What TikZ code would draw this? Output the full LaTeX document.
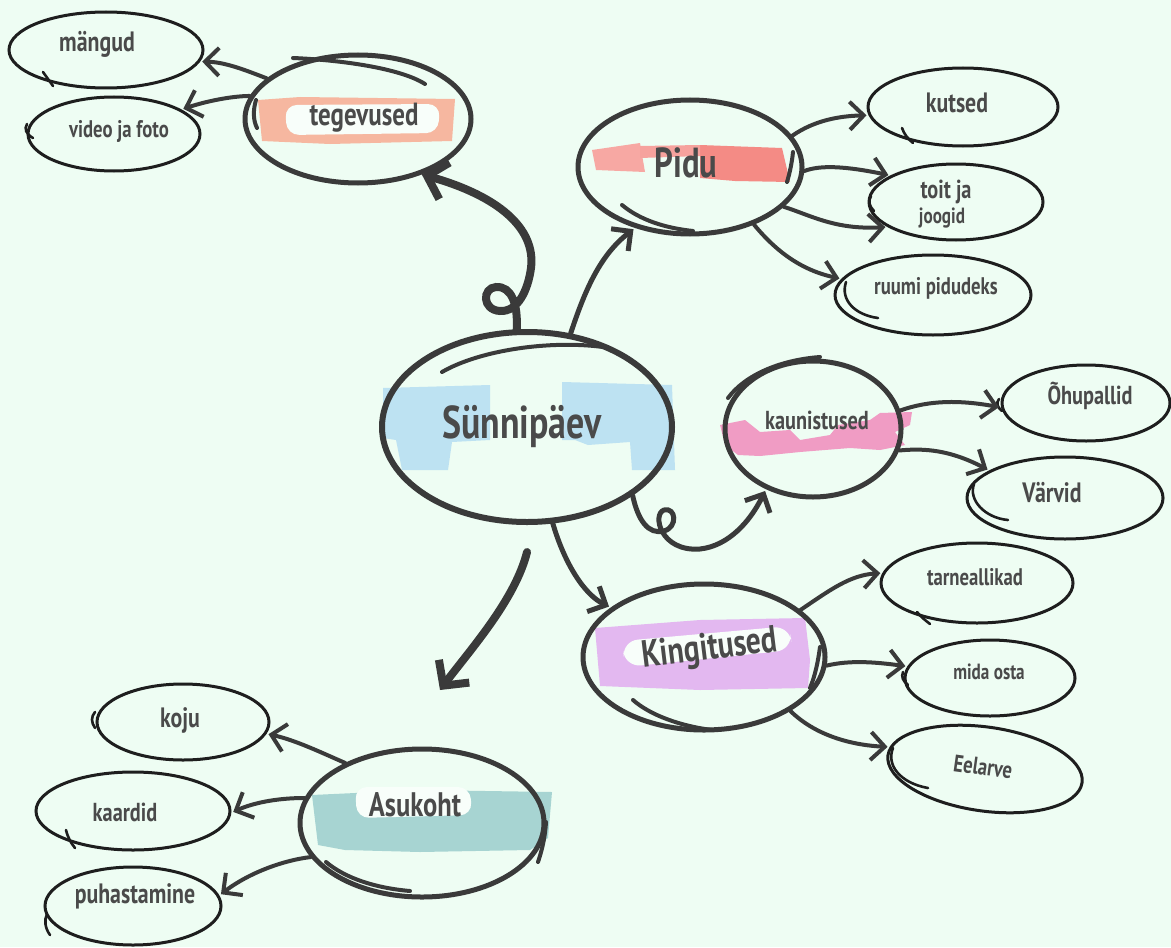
\documentclass[tikz,border=0pt]{standalone}
\usepackage{fontspec}
\setmainfont{PT Sans}
\usetikzlibrary{shapes.geometric,arrows.meta}
\definecolor{bg}{HTML}{EEFDF3}
\definecolor{ink}{HTML}{3A3A3A}
\definecolor{leafink}{HTML}{1E1E1E}
\definecolor{txt}{HTML}{4A4A4A}
\definecolor{orangebrush}{HTML}{F6B7A0}
\definecolor{salmonbrush}{HTML}{F48B85}
\definecolor{bluebrush}{HTML}{BDE2F2}
\definecolor{pinkbrush}{HTML}{F09CC4}
\definecolor{lilacbrush}{HTML}{E3B8F0}
\definecolor{tealbrush}{HTML}{A7D4D2}
\newcommand\narrowtxt[1]{\scalebox{0.78}[1]{#1}}
\begin{document}
\begin{tikzpicture}[x=0.5pt,y=-0.5pt,
  mainnode/.style={ellipse, draw=ink, line width=2.5pt, inner sep=0pt},
  centernode/.style={ellipse, draw=ink, line width=3pt, inner sep=0pt},
  leaf/.style={ellipse, draw=leafink, line width=1.5pt, inner sep=0pt},
  lbl/.style={text=txt, inner sep=0pt, font=\bfseries},
  conn/.style={draw=ink, line width=2pt, line cap=round,
     -{Straight Barb[length=7pt,width=14pt]}, shorten >=1pt},
  bigconn/.style={draw=ink, line width=4pt, line cap=round,
     -{Straight Barb[length=9pt,width=19pt]}},
  sketch/.style={draw=ink, line width=2pt, line cap=round},
  leafsketch/.style={draw=leafink, line width=1.3pt, line cap=round}
]
\fill[bg] (0,0) rectangle (1171,947);
\useasboundingbox (0,0) rectangle (1171,947);

% ---------- brushes ----------
\fill[orangebrush] (258,100) -- (300,97) -- (455,99) -- (452,141) -- (330,144) -- (262,141) -- cycle;
\fill[white!60!bg, rounded corners=6pt] (285,105) -- (440,104) -- (438,133) -- (287,135) -- cycle;

\fill[salmonbrush!75!white] (592,150) -- (640,143) -- (645,172) -- (596,170) -- cycle;
\fill[salmonbrush] (700,145) -- (782,148) -- (790,182) -- (735,181) -- (700,178) -- cycle;
\fill[salmonbrush!80!white] (640,146) -- (700,145) -- (700,156) -- (640,158) -- cycle;

\fill[bluebrush] (383,388) -- (490,385) -- (490,440) -- (452,442) -- (448,470) -- (402,470) -- (396,440) -- (383,438) -- cycle;
\fill[bluebrush] (562,382) -- (672,385) -- (675,470) -- (632,470) -- (630,442) -- (588,445) -- (575,440) -- (562,440) -- cycle;

\fill[pinkbrush] (720,425) -- (745,420) -- (760,432) -- (790,430) -- (800,440) -- (830,435) -- (838,425) -- (870,420) -- (880,413) -- (912,412) -- (910,425) -- (895,432) -- (905,445) -- (880,450) -- (850,448) -- (800,452) -- (760,456) -- (738,455) -- (725,445) -- cycle;

\fill[lilacbrush] (595,628) -- (700,620) -- (805,618) -- (810,660) -- (808,688) -- (700,690) -- (600,686) -- cycle;
\fill[white!60!bg, rounded corners=8pt] (622,641) -- (790,626) -- (792,650) -- (625,667) -- cycle;

\fill[tealbrush] (312,795) -- (420,790) -- (552,792) -- (548,838) -- (530,850) -- (420,852) -- (345,850) -- (318,845) -- cycle;
\fill[white!60!bg, rounded corners=6pt] (355,787) -- (470,787) -- (472,815) -- (357,818) -- cycle;

% ---------- nodes ----------
\node[centernode, minimum width=145pt, minimum height=95pt] (sun) at (527,427) {};
\node[mainnode, minimum width=113pt, minimum height=64pt] (tegev) at (358,119) {};
\node[mainnode, minimum width=112pt, minimum height=67pt] (pidu) at (690,167) {};
\node[mainnode, minimum width=88pt, minimum height=68pt] (kaun) at (813,429) {};
\node[mainnode, minimum width=121pt, minimum height=73pt] (king) at (704,657) {};
\node[mainnode, minimum width=122pt, minimum height=74pt] (asuk) at (422,823) {};

\node[leaf, minimum width=97pt, minimum height=38pt] (mang) at (106,50) {};
\node[leaf, minimum width=86pt, minimum height=37pt] (video) at (114,134) {};
\node[leaf, minimum width=95pt, minimum height=39pt] (kutsed) at (963,107) {};
\node[leaf, minimum width=87pt, minimum height=38pt] (toit) at (956,202) {};
\node[leaf, minimum width=98pt, minimum height=40pt] (ruumi) at (933,295) {};
\node[leaf, minimum width=84pt, minimum height=38pt] (ohu) at (1086,403) {};
\node[leaf, minimum width=98pt, minimum height=41pt] (varvid) at (1065,498) {};
\node[leaf, minimum width=96pt, minimum height=40pt] (tarne) at (977,583) {};
\node[leaf, minimum width=85pt, minimum height=38pt] (mida) at (990,678) {};
\node[leaf, minimum width=98pt, minimum height=42pt, rotate=-8] (eelarve) at (985,769) {};
\node[leaf, minimum width=86pt, minimum height=38pt] (koju) at (183,722) {};
\node[leaf, minimum width=97pt, minimum height=39pt] (kaardid) at (133,811) {};
\node[leaf, minimum width=88pt, minimum height=39pt] (puhast) at (133,906) {};

% ---------- sketch strokes ----------
\draw[sketch] (293,58) .. controls (340,60) and (400,68) .. (425,84);
\draw[sketch] (256,100) .. controls (253,110) and (253,120) .. (257,128);
\draw[sketch] (622,205) .. controls (640,220) and (665,228) .. (693,231);
\draw[sketch] (793,152) .. controls (792,162) and (790,172) .. (787,182);
\draw[sketch] (442,372) .. controls (480,350) and (550,340) .. (603,347);
\draw[sketch] (728,398) .. controls (745,375) and (780,360) .. (820,357);
\draw[sketch] (633,700) .. controls (650,715) and (680,726) .. (712,730);
\draw[sketch] (820,647) .. controls (818,662) and (815,676) .. (810,688);
\draw[sketch] (326,862) .. controls (345,878) and (375,888) .. (410,891);
\draw[sketch] (546,822) .. controls (545,838) and (542,850) .. (538,862);

\draw[leafsketch] (43,72) -- (53,86);
\draw[leafsketch] (27,124) .. controls (24,129) and (26,134) .. (33,138);
\draw[leafsketch] (902,128) .. controls (904,134) and (908,139) .. (913,143);
\draw[leafsketch] (871,196) .. controls (868,201) and (869,206) .. (874,211);
\draw[leafsketch] (846,282) .. controls (840,300) and (855,315) .. (878,318);
\draw[leafsketch] (999,399) .. controls (996,403) and (997,407) .. (1002,411);
\draw[leafsketch] (974,484) .. controls (968,500) and (985,518) .. (1008,520);
\draw[leafsketch] (917,612) .. controls (921,617) and (925,620) .. (930,624);
\draw[leafsketch] (903,672) .. controls (901,677) and (903,681) .. (908,685);
\draw[leafsketch] (893,748) .. controls (886,765) and (900,783) .. (928,788);
\draw[leafsketch] (95,712) .. controls (91,717) and (91,722) .. (95,728);
\draw[leafsketch] (66,830) .. controls (68,838) and (71,843) .. (75,848);
\draw[leafsketch] (47,914) .. controls (44,920) and (45,928) .. (50,935);

% ---------- labels ----------
\node[lbl, font=\bfseries\fontsize{23}{23}\selectfont] (tsun) at (522,427) {\narrowtxt{Sünnipäev}};
\node[lbl, font=\bfseries\fontsize{16}{16}\selectfont] (ttegev) at (364,118) {\narrowtxt{tegevused}};
\node[lbl, font=\bfseries\fontsize{21}{21}\selectfont] (tpidu) at (686,163) {\narrowtxt{Pidu}};
\node[lbl, font=\bfseries\fontsize{13}{13}\selectfont] (tkaun) at (817,420) {\narrowtxt{kaunistused}};
\node[lbl, font=\bfseries\fontsize{19}{19}\selectfont, rotate=7] (tking) at (710,650) {\narrowtxt{Kingitused}};
\node[lbl, font=\bfseries\fontsize{17}{17}\selectfont] (tasuk) at (415,805) {\narrowtxt{Asukoht}};

\node[lbl, font=\bfseries\fontsize{14}{14}\selectfont] (tmang) at (97,44) {\narrowtxt{mängud}};
\node[lbl, font=\bfseries\fontsize{12}{12}\selectfont] (tvideo) at (119,131) {\narrowtxt{video ja foto}};
\node[lbl, font=\bfseries\fontsize{14}{14}\selectfont] (tkutsed) at (957,103) {\narrowtxt{kutsed}};
\node[lbl, font=\bfseries\fontsize{13}{13}\selectfont] (ttoit1) at (946,192) {\narrowtxt{toit ja}};
\node[lbl, font=\bfseries\fontsize{11}{11}\selectfont] (ttoit2) at (942,218) {\narrowtxt{joogid}};
\node[lbl, font=\bfseries\fontsize{12}{12}\selectfont] (truumi) at (936,288) {\narrowtxt{ruumi pidudeks}};
\node[lbl, font=\bfseries\fontsize{13}{13}\selectfont] (tohu) at (1090,396) {\narrowtxt{Õhupallid}};
\node[lbl, font=\bfseries\fontsize{14}{14}\selectfont] (tvarvid) at (1052,493) {\narrowtxt{Värvid}};
\node[lbl, font=\bfseries\fontsize{12}{12}\selectfont] (ttarne) at (975,577) {\narrowtxt{tarneallikad}};
\node[lbl, font=\bfseries\fontsize{11}{11}\selectfont] (tmida) at (989,672) {\narrowtxt{mida osta}};
\node[lbl, font=\bfseries\fontsize{12}{12}\selectfont, rotate=-8] (teelarve) at (983,767) {\narrowtxt{Eelarve}};
\node[lbl, font=\bfseries\fontsize{14}{14}\selectfont] (tkoju) at (180,720) {\narrowtxt{koju}};
\node[lbl, font=\bfseries\fontsize{13}{13}\selectfont] (tkaardid) at (125,812) {\narrowtxt{kaardid}};
\node[lbl, font=\bfseries\fontsize{14}{14}\selectfont] (tpuhast) at (135,896) {\narrowtxt{puhastamine}};

% ---------- connectors ----------
\coordinate (asukTip) at (440,690);
\draw[bigconn] (sun.96) .. controls (518,305) and (512,286) .. (496,287)
   .. controls (482,288) and (482,310) .. (500,311)
   .. controls (518,312) and (528,290) .. (531,268)
   .. controls (536,228) and (498,196) .. (tegev.-41);
\draw[bigconn, shorten <=14pt] (sun.-86) .. controls (515,600) and (470,650) .. (asukTip);
\draw[conn, line width=2.5pt] (sun.65) .. controls (585,290) and (600,255) .. (pidu.-132);
\draw[conn, line width=2.5pt] (sun.-33) .. controls (638,520) and (648,535) .. (664,531)
   .. controls (678,527) and (676,507) .. (664,510)
   .. controls (652,514) and (660,552) .. (700,549)
   .. controls (728,546) and (750,522) .. (kaun.-128);
\draw[conn, line width=2.5pt] (sun.-75) .. controls (565,565) and (585,595) .. (king.152);

\draw[conn] (tegev.156) .. controls (245,70) and (225,62) .. (mang.-7);
\draw[conn] (tegev.168) .. controls (235,96) and (210,100) .. (video.20);

\draw[conn] (pidu.17) .. controls (815,120) and (840,116) .. (kutsed.185);
\draw[conn] (pidu.-2) .. controls (820,165) and (845,166) .. (toit.158);
\draw[conn] (pidu.-23) .. controls (810,215) and (835,230) .. (toit.200);
\draw[conn] (pidu.-42) .. controls (775,250) and (800,270) .. (ruumi.170);

\draw[conn] (kaun.12) .. controls (930,400) and (960,400) .. (ohu.183);
\draw[conn] (kaun.-14) .. controls (925,448) and (950,450) .. (varvid.160);

\draw[conn] (king.26) .. controls (830,590) and (850,575) .. (tarne.174);
\draw[conn] (king.-4) .. controls (850,660) and (875,662) .. (mida.172);
\draw[conn] (king.-32) .. controls (815,735) and (850,745) .. (eelarve.175);

\draw[conn] (asuk.142) .. controls (320,752) and (295,740) .. (koju.-8);
\draw[conn] (asuk.168) .. controls (280,798) and (255,802) .. (kaardid.-1);
\draw[conn] (asuk.197) .. controls (285,860) and (250,872) .. (puhast.7);
\end{tikzpicture}
\end{document}
